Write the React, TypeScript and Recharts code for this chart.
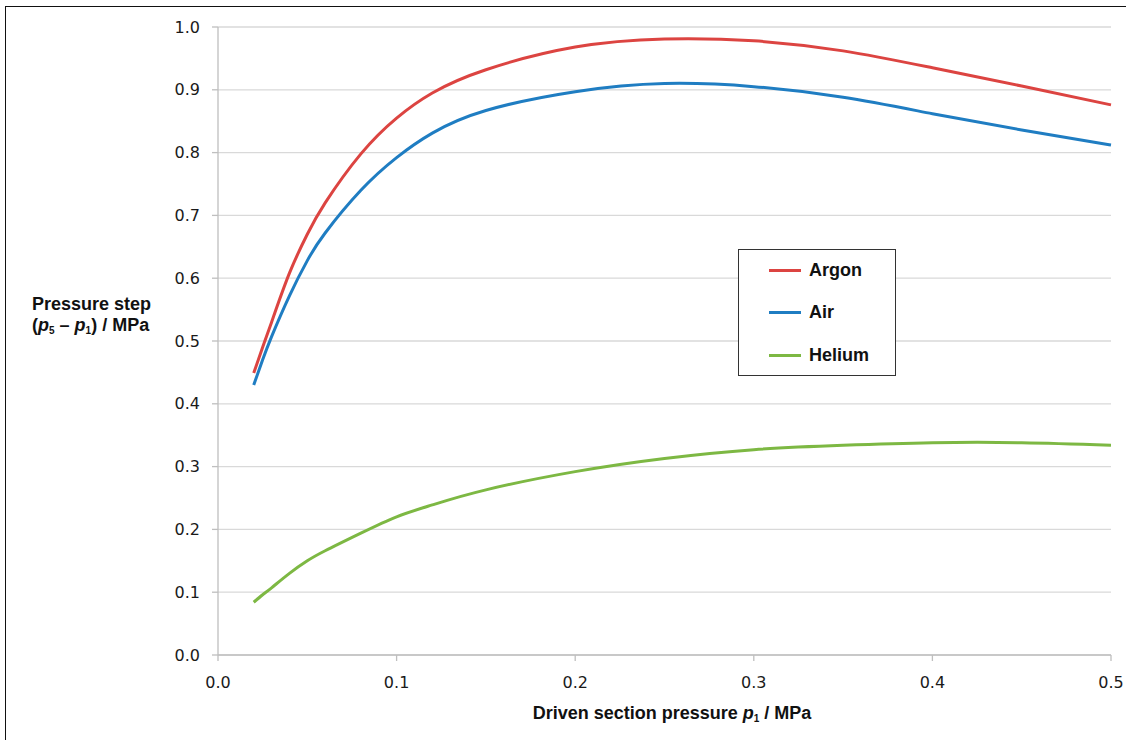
import {
  LineChart,
  Line,
  XAxis,
  YAxis,
  CartesianGrid,
  Legend,
} from "recharts";

// driven section pressure p1 (MPa)
const pressures = [0.02, 0.025, 0.03, 0.04, 0.05, 0.06, 0.08, 0.1, 0.12, 0.15, 0.2, 0.25, 0.3, 0.35, 0.4, 0.45, 0.5];

// pressure step (p5 - p1) in MPa
const argon = [0.449, 0.49, 0.53, 0.608, 0.67, 0.72, 0.798, 0.855, 0.895, 0.932, 0.968, 0.981, 0.978, 0.962, 0.935, 0.906, 0.876];
const air = [0.43, 0.47, 0.507, 0.572, 0.628, 0.672, 0.74, 0.792, 0.831, 0.867, 0.897, 0.91, 0.905, 0.888, 0.862, 0.836, 0.812];
const helium = [0.084, 0.096, 0.107, 0.13, 0.15, 0.166, 0.194, 0.22, 0.239, 0.263, 0.292, 0.313, 0.327, 0.334, 0.338, 0.338, 0.334];

const xTicks = [0, 0.1, 0.2, 0.3, 0.4, 0.5];
const yTicks = [0, 0.1, 0.2, 0.3, 0.4, 0.5, 0.6, 0.7, 0.8, 0.9, 1.0];

const seriesNames = ["Argon", "Air", "Helium"];
const colors = ["#dc4441", "#1f7dc2", "#7db843"];

const rows = pressures.map((p, i) => ({
  p,
  Argon: argon[i],
  Air: air[i],
  Helium: helium[i],
}));

const tickStyle = {
  fontFamily: "'DejaVu Sans', Verdana, sans-serif",
  fontSize: 16,
  fill: "#1a1a1a",
};

const boldFont = "'Liberation Sans', Arial, Helvetica, sans-serif";

function LegendBox() {
  return (
    <div
      style={{
        width: 158,
        height: 127,
        border: "1px solid #333",
        background: "#fff",
        boxSizing: "border-box",
        fontFamily: boldFont,
        fontWeight: "bold",
        fontSize: 18,
        color: "#111",
      }}
    >
      {seriesNames.map((name, i) => (
        <div
          key={name}
          style={{
            position: "absolute",
            left: 31,
            top: 10 + i * 42.5,
            display: "flex",
            alignItems: "center",
            height: 22,
          }}
        >
          <div style={{ width: 32, height: 3, background: colors[i] }} />
          <span style={{ marginLeft: 8 }}>{name}</span>
        </div>
      ))}
    </div>
  );
}

export default function App() {
  return (
    <div
      style={{
        position: "absolute",
        left: 0,
        top: 0,
        width: 1126,
        height: 740,
        overflow: "hidden",
        background: "#fff",
      }}
    >
      <div
        style={{
          position: "absolute",
          left: 5,
          top: 6,
          width: 1200,
          height: 800,
          border: "1.5px solid #111",
        }}
      />

      <div style={{ position: "absolute", left: 0, top: 0 }}>
        <LineChart
          width={1126}
          height={740}
          data={rows}
          margin={{ top: 27, right: 15, bottom: 55, left: 158 }}
        >
          <CartesianGrid horizontal vertical={false} stroke="#d9d9d9" strokeWidth={1.3} />
          <XAxis
            dataKey="p"
            type="number"
            domain={[0, 0.5]}
            ticks={xTicks}
            tickFormatter={(v: number) => v.toFixed(1)}
            height={30}
            tick={tickStyle}
            stroke="#bfbfbf"
            strokeWidth={1.3}
            tickSize={6}
            tickMargin={16}
          />
          <YAxis
            type="number"
            domain={[0, 1]}
            ticks={yTicks}
            tickFormatter={(v: number) => v.toFixed(1)}
            width={60}
            tick={tickStyle}
            stroke="#bfbfbf"
            strokeWidth={1.3}
            tickSize={6}
            tickMargin={12}
          />
          <Legend
            layout="vertical"
            align="center"
            verticalAlign="middle"
            content={() => <LegendBox />}
            wrapperStyle={{ left: 738, top: 249, width: 158, height: 127 }}
          />
          {seriesNames.map((name, i) => (
            <Line
              key={name}
              type="natural"
              dataKey={name}
              stroke={colors[i]}
              strokeWidth={3}
              dot={false}
              isAnimationActive={false}
            />
          ))}
        </LineChart>
      </div>

      <div
        style={{
          position: "absolute",
          left: 32,
          top: 294,
          fontFamily: boldFont,
          fontWeight: "bold",
          fontSize: 18,
          lineHeight: "21px",
          color: "#111",
          whiteSpace: "nowrap",
        }}
      >
        <div>Pressure step</div>
        <div>
          (<i>p</i>
          <span style={{ fontSize: 10, position: "relative", top: 3 }}>5</span> – <i>p</i>
          <span style={{ fontSize: 10, position: "relative", top: 3 }}>1</span>) / MPa
        </div>
      </div>

      <div
        style={{
          position: "absolute",
          left: 472,
          top: 703,
          width: 400,
          textAlign: "center",
          fontFamily: boldFont,
          fontWeight: "bold",
          fontSize: 18,
          lineHeight: "21px",
          color: "#111",
          whiteSpace: "nowrap",
        }}
      >
        Driven section pressure <i>p</i>
        <span style={{ fontSize: 10, position: "relative", top: 3 }}>1</span> / MPa
      </div>
    </div>
  );
}
